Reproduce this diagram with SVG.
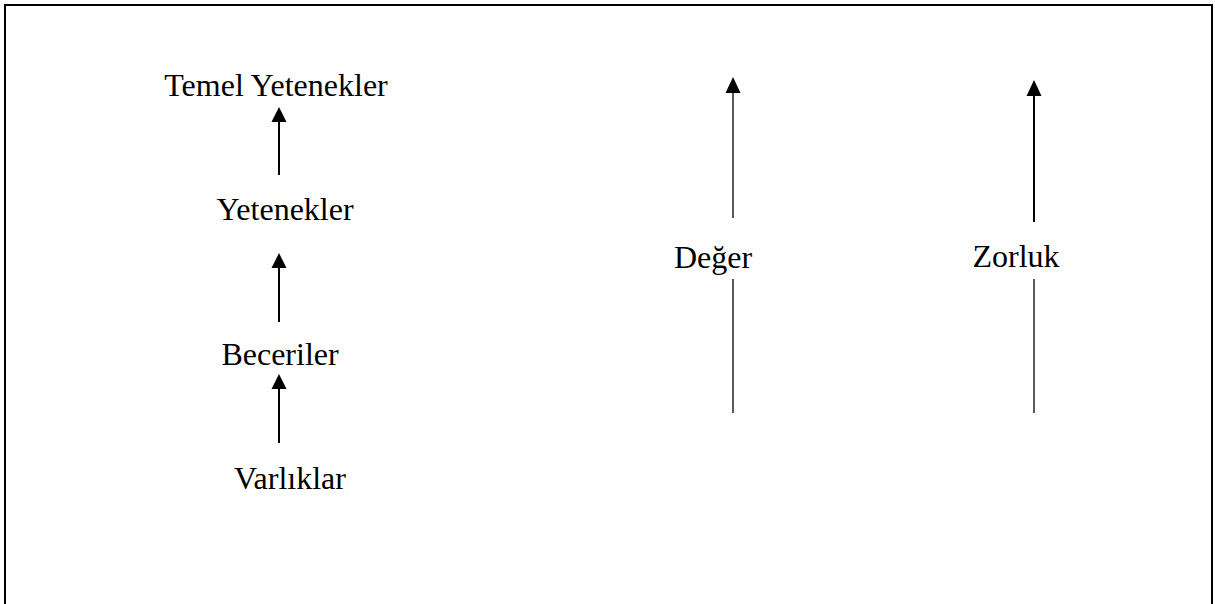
<svg xmlns="http://www.w3.org/2000/svg" width="1215" height="604" viewBox="0 0 1215 604">
<style>
text{font-family:"Liberation Serif","Times New Roman",serif;font-size:32px;fill:#000;text-anchor:middle}
.thick{stroke:#000;stroke-width:2;fill:none}
.thin{stroke:#000;stroke-width:1.3;fill:none}
</style>
<rect x="5" y="5" width="1207" height="620" fill="#fff" stroke="#000" stroke-width="2"/>
<g id="connectors">
<path class="thick" d="M279,175 V122"/>
<path d="M271.5,122 L279,107 L286.5,122 Z" fill="#000"/>
<path class="thick" d="M279,322 V268"/>
<path d="M271.5,268 L279,253 L286.5,268 Z" fill="#000"/>
<path class="thick" d="M279,443 V389"/>
<path d="M271.5,389 L279,374 L286.5,389 Z" fill="#000"/>
<path class="thin" d="M733,218 V92"/>
<path d="M725.5,93 L733,77 L740.5,93 Z" fill="#000"/>
<path class="thin" d="M733,279 V413"/>
<path class="thick" d="M1034,222 V95"/>
<path d="M1026.5,96 L1034,80 L1041.5,96 Z" fill="#000"/>
<path class="thin" d="M1034,279 V413"/>
</g>
<g id="temel"><text x="276" y="96">Temel Yetenekler</text></g>
<g id="yetenekler"><text x="285" y="220">Yetenekler</text></g>
<g id="beceriler"><text x="280" y="365">Beceriler</text></g>
<g id="varliklar"><text x="290" y="489">Varlıklar</text></g>
<g id="deger"><text x="713" y="268">Değer</text></g>
<g id="zorluk"><text x="1016" y="267">Zorluk</text></g>
</svg>
